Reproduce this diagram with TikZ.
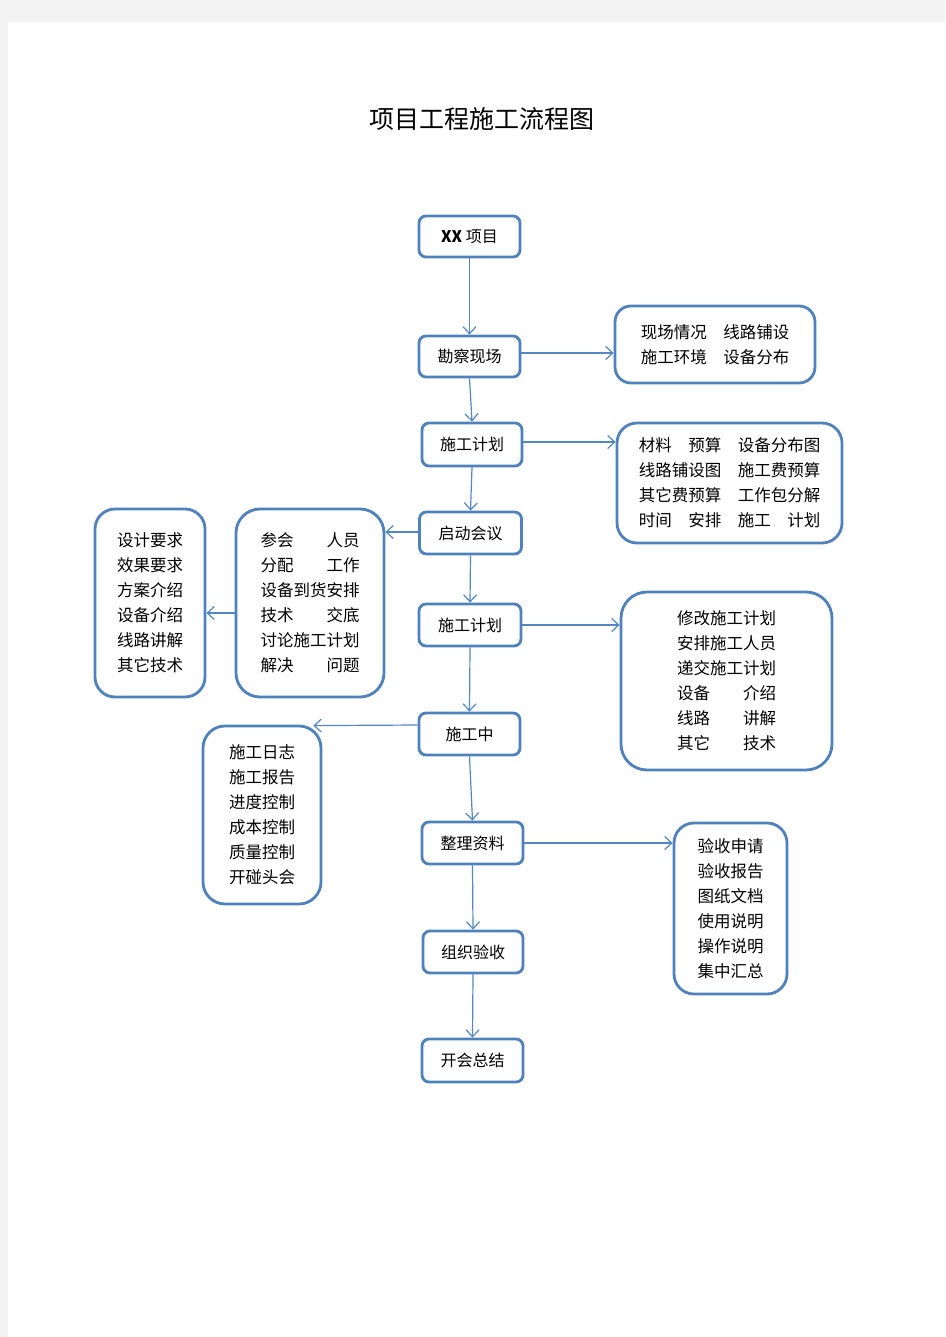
\documentclass[tikz,border=0pt]{standalone}
\usepackage{fontspec}
\setmainfont{Liberation Sans}
\newfontfamily\cjk{Noto Sans CJK SC}
\usetikzlibrary{arrows.meta}
\definecolor{boxblue}{RGB}{79,129,189}
\definecolor{lineblue}{RGB}{84,134,194}
\definecolor{pagegray}{RGB}{243,243,243}
\tikzset{
  stepbox/.style={draw=boxblue, line width=2.8pt, rounded corners=7pt, fill=white,
    inner sep=0pt, font=\cjk\fontsize{16}{25}\selectfont, align=center},
  infobox/.style={draw=boxblue, line width=2.8pt, fill=white,
    inner sep=0pt, font=\cjk\fontsize{16.5}{25}\selectfont, align=center},
  conn/.style={draw=lineblue, line width=1.2pt, -{Straight Barb[length=7pt,width=13pt,line width=1.2pt]}}
}
\begin{document}
\begin{tikzpicture}[x=1pt,y=-1pt]
\fill[pagegray] (0,0) rectangle (945,1337);
\fill[white] (8,22) rectangle (945,1337);
\useasboundingbox (0,0) rectangle (945,1337);

\node[font=\cjk\fontsize{25}{30}\selectfont] (title) at (482,119) {项目工程施工流程图};

% main flow
\node[stepbox, minimum width=101pt, minimum height=41pt] (xx) at (469.5,236.5) {\textbf{XX} 项目};
\node[stepbox, minimum width=101pt, minimum height=41pt] (kc) at (469.5,356.5) {勘察现场};
\node[stepbox, minimum width=100pt, minimum height=43pt] (jh1) at (472,444.5) {施工计划};
\node[stepbox, minimum width=102pt, minimum height=42pt] (qd) at (470.5,533) {启动会议};
\node[stepbox, minimum width=102pt, minimum height=42pt] (jh2) at (470,625) {施工计划};
\node[stepbox, minimum width=101pt, minimum height=42pt] (sgz) at (469.5,734) {施工中};
\node[stepbox, minimum width=101pt, minimum height=42pt] (zl) at (472.5,843) {整理资料};
\node[stepbox, minimum width=100pt, minimum height=42pt] (zz) at (473,952) {组织验收};
\node[stepbox, minimum width=101pt, minimum height=43pt] (kh) at (472.5,1060.5) {开会总结};

% info boxes
\node[infobox, rounded corners=16pt, minimum width=200pt, minimum height=77pt] (xc) at (715,344.5)
  {现场情况　线路铺设\\施工环境　设备分布};
\node[infobox, rounded corners=20pt, minimum width=225pt, minimum height=120pt] (cl) at (729.5,483)
  {材料　预算　设备分布图\\线路铺设图　施工费预算\\其它费预算　工作包分解\\时间　安排　施工　计划};
\node[infobox, rounded corners=24pt, minimum width=148pt, minimum height=188pt] (ch) at (310,603)
  {参会　　人员\\分配　　工作\\设备到货安排\\技术　　交底\\讨论施工计划\\解决　　问题};
\node[infobox, rounded corners=20pt, minimum width=110pt, minimum height=188pt] (sj) at (150,603)
  {设计要求\\效果要求\\方案介绍\\设备介绍\\线路讲解\\其它技术};
\node[infobox, rounded corners=26pt, minimum width=211pt, minimum height=178pt] (xg) at (726.5,681)
  {修改施工计划\\安排施工人员\\递交施工计划\\设备　　介绍\\线路　　讲解\\其它　　技术};
\node[infobox, rounded corners=22pt, minimum width=118pt, minimum height=178pt] (rz) at (262,815)
  {施工日志\\施工报告\\进度控制\\成本控制\\质量控制\\开碰头会};
\node[infobox, rounded corners=20pt, minimum width=113pt, minimum height=171pt] (ys) at (730.5,908.5)
  {验收申请\\验收报告\\图纸文档\\使用说明\\操作说明\\集中汇总};

% vertical connectors
\draw[conn] (xx.south) -- (kc.north);
\draw[conn] (kc.south) -- (jh1.north);
\draw[conn] (jh1.south) -- (qd.north);
\draw[conn] (qd.south) -- (jh2.north);
\draw[conn] (jh2.south) -- (sgz.north);
\draw[conn] (sgz.south) -- (zl.north);
\draw[conn] (zl.south) -- (zz.north);
\draw[conn] (zz.south) -- (kh.north);

% side connectors
\draw[conn] ([yshift=3.5pt]kc.east) -- ([yshift=3.5pt]kc.east -| xc.west);
\draw[conn] ([yshift=2.5pt]jh1.east) -- ([yshift=2.5pt]jh1.east -| cl.west);
\draw[conn] ([yshift=1pt]qd.west) -- ([yshift=1pt]qd.west -| ch.east);
\draw[conn] ([yshift=-10pt]ch.west) -- ([yshift=-10pt]ch.west -| sj.east);
\draw[conn] (jh2.east) -- (jh2.east -| xg.west);
\draw[conn] ([yshift=9pt]sgz.west) -- ([xshift=-9pt,yshift=-1pt]rz.north east);
\draw[conn] (zl.east) -- (zl.east -| ys.west);
\end{tikzpicture}
\end{document}
